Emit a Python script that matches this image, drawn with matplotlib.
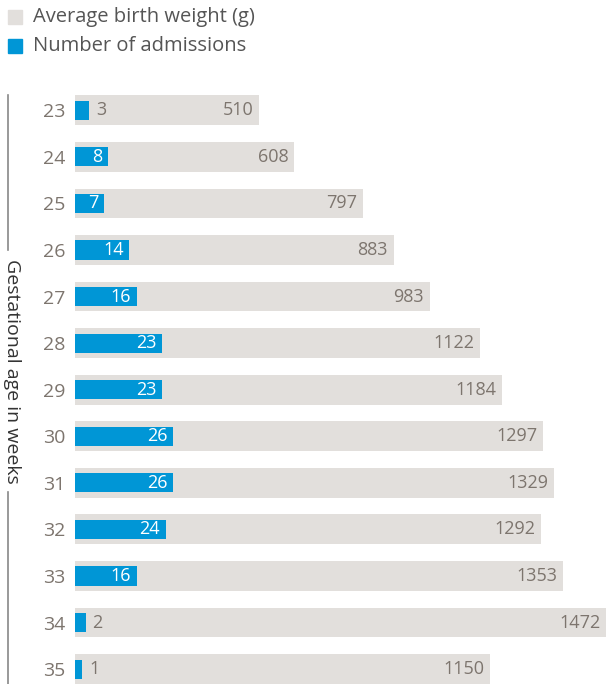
import numpy as np
import matplotlib.pyplot as plt
from matplotlib.lines import Line2D
from matplotlib.patches import Rectangle

plt.rcParams['font.family'] = ['Open Sans', 'DejaVu Sans']

# data
weeks = [23, 24, 25, 26, 27, 28, 29, 30, 31, 32, 33, 34, 35]
birth_weight = [510, 608, 797, 883, 983, 1122, 1184, 1297, 1329, 1292, 1353, 1472, 1150]
admissions = [3, 8, 7, 14, 16, 23, 23, 26, 26, 24, 16, 2, 1]

GREY = '#e2dfdc'
BLUE = '#0096d6'
LABEL = '#7d756e'

W, H = 606, 684
fig = plt.figure(figsize=(W / 100, H / 100), dpi=100)

ax = fig.add_axes([75 / W, 0, 1 - 75 / W, (684 - 87) / H])
y = np.arange(len(weeks))

ax.barh(y, birth_weight, height=0.64, color=GREY, zorder=1)
ax.set_xlim(0, 1472)
ax.set_ylim(12.32, -0.5)
for i, v in enumerate(birth_weight):
    ax.annotate(str(v), (v, i), xytext=(-4, 0), textcoords='offset points',
                ha='right', va='center', color=LABEL, fontsize=13)

ax.set_yticks(y)
ax.set_yticklabels([str(w) for w in weeks], fontsize=14, color=LABEL)
ax.tick_params(axis='y', length=0, pad=7)
ax.set_xticks([])
for s in ax.spines.values():
    s.set_visible(False)

# admissions on their own scale
amin = -0.93
ax2 = ax.twiny()
ax2.barh(y, [a - amin for a in admissions], left=amin, height=0.41, color=BLUE, zorder=2)
ax2.set_xlim(amin, 144.9)
ax2.set_xticks([])
for s in ax2.spines.values():
    s.set_visible(False)
for i, v in enumerate(admissions):
    if v >= 5:
        ax2.annotate(str(v), (v, i), xytext=(-4, 0), textcoords='offset points',
                     ha='right', va='center', color='white', fontsize=13)
    else:
        ax2.annotate(str(v), (v, i), xytext=(5, 0), textcoords='offset points',
                     ha='left', va='center', color=LABEL, fontsize=13)

# legend
fig.patches.append(Rectangle((8 / W, 1 - 24 / H), 14 / W, 14 / H,
                             transform=fig.transFigure, color=GREY))
fig.patches.append(Rectangle((8 / W, 1 - 53 / H), 14 / W, 14 / H,
                             transform=fig.transFigure, color=BLUE))
fig.text(33 / W, 1 - 17 / H, 'Average birth weight (g)', va='center', ha='left',
         fontsize=14.5, color='#555555')
fig.text(33 / W, 1 - 46 / H, 'Number of admissions', va='center', ha='left',
         fontsize=14.5, color='#555555')

# axis title with line
fig.text(12 / W, 1 - 371 / H, 'Gestational age in weeks', rotation=270,
         ha='center', va='center', fontsize=14, color='#333333')
fig.lines.append(Line2D([8 / W, 8 / W], [1 - 95 / H, 1 - 250 / H],
                        transform=fig.transFigure, color='#888888', lw=1.2))
fig.lines.append(Line2D([8 / W, 8 / W], [1 - 492 / H, 0],
                        transform=fig.transFigure, color='#888888', lw=1.2))

fig.savefig('out.png', dpi=100)
